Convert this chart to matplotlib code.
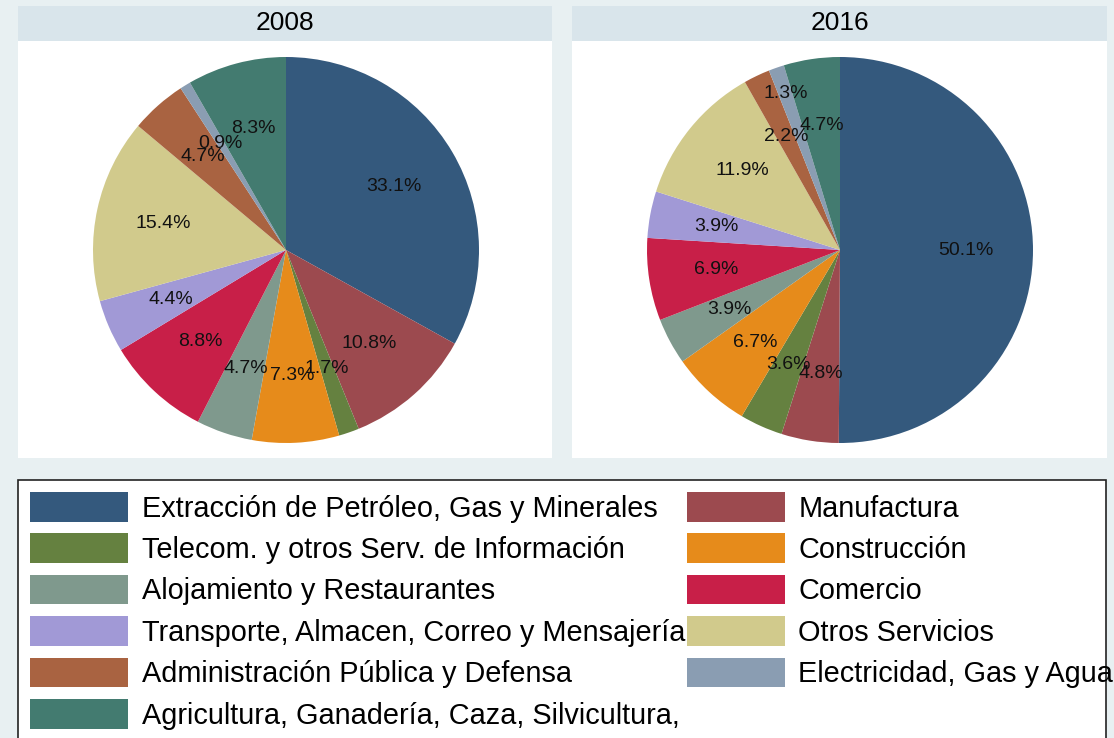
import numpy as np
import matplotlib.pyplot as plt
from matplotlib.patches import Patch, Rectangle

plt.rcParams['font.family'] = ['Liberation Sans', 'DejaVu Sans']

# sectores en el orden de la torta (sentido horario desde las 12)
sectores = ['Extracción de Petróleo, Gas y Minerales', 'Manufactura',
            'Telecom. y otros Serv. de Información', 'Construcción',
            'Alojamiento y Restaurantes', 'Comercio',
            'Transporte, Almacen, Correo y Mensajería', 'Otros Servicios',
            'Administración Pública y Defensa', 'Electricidad, Gas y Agua',
            'Agricultura, Ganadería, Caza, Silvicultura,']
valores_2008 = [33.1, 10.8, 1.7, 7.3, 4.7, 8.8, 4.4, 15.4, 4.7, 0.9, 8.3]
valores_2016 = [50.1, 4.8, 3.6, 6.7, 3.9, 6.9, 3.9, 11.9, 2.2, 1.3, 4.7]
anios = ['2008', '2016']

colores = ['#34597d', '#9c4a4f', '#658140', '#e68b1b', '#7f998d', '#c81f48',
           '#a199d6', '#d1ca8c', '#a96341', '#8a9db2', '#437b70']

W, H = 1114, 738
fig = plt.figure(figsize=(W / 100, H / 100), dpi=100, facecolor='#e8f0f2')


def px(x0, y0, x1, y1):
    # caja en pixeles (origen arriba a la izquierda) -> fraccion de figura
    return [x0 / W, 1 - y1 / H, (x1 - x0) / W, (y1 - y0) / H]


def limpiar(ax):
    ax.set_xticks([])
    ax.set_yticks([])
    for s in ax.spines.values():
        s.set_visible(False)


paneles = [(18, 552, 286), (572, 1107, 840)]
# etiquetas que van mas afuera (panel, indice sector, distancia)
desplazadas = {(1, 9): 0.86}

for k, (anio, valores, (x0, x1, cx)) in enumerate(zip(anios, [valores_2008, valores_2016], paneles)):
    ax_t = fig.add_axes(px(x0, 6, x1, 41))
    ax_t.set_facecolor('#d9e5eb')
    limpiar(ax_t)
    ax_t.text(0.5, 0.5, anio, ha='center', va='center', fontsize=19)

    ax_b = fig.add_axes(px(x0, 41, x1, 458))
    ax_b.set_facecolor('white')
    limpiar(ax_b)

    r = 193
    ax = fig.add_axes(px(cx - r, 250 - r, cx + r, 250 + r))
    wedges, _, autotexts = ax.pie(valores, colors=colores, startangle=90, counterclock=False,
                                  autopct='%.1f%%', pctdistance=0.65,
                                  textprops=dict(fontsize=14, color='#111111'),
                                  wedgeprops=dict(linewidth=0))
    for (p, i), d in desplazadas.items():
        if p == k:
            ang = np.deg2rad((wedges[i].theta1 + wedges[i].theta2) / 2)
            autotexts[i].set_position((d * np.cos(ang), d * np.sin(ang)))
    ax.set_xlim(-1, 1)
    ax.set_ylim(-1, 1)
    ax.set_aspect('equal')
    ax.axis('off')

# marco de la leyenda
fig.patches.append(Rectangle((18 / W, -0.05), (1106 - 18) / W, 1 - 480 / H + 0.05,
                             transform=fig.transFigure, facecolor='white',
                             edgecolor='#222222', linewidth=1.2, zorder=0))

handles = [Patch(facecolor=c, edgecolor='none') for c in colores]
orden = [0, 2, 4, 6, 8, 10, 1, 3, 5, 7, 9]
fig.legend([handles[i] for i in orden], [sectores[i] for i in orden],
           ncol=2, loc='upper left', bbox_to_anchor=(30 / W, 1 - 492 / H),
           frameon=False, fontsize=20.8, handlelength=3.39, handleheight=1.2,
           handletextpad=0.48, labelspacing=0.375, columnspacing=0.05,
           borderpad=0, borderaxespad=0)

fig.savefig('out.png', dpi=100, facecolor=fig.get_facecolor())
